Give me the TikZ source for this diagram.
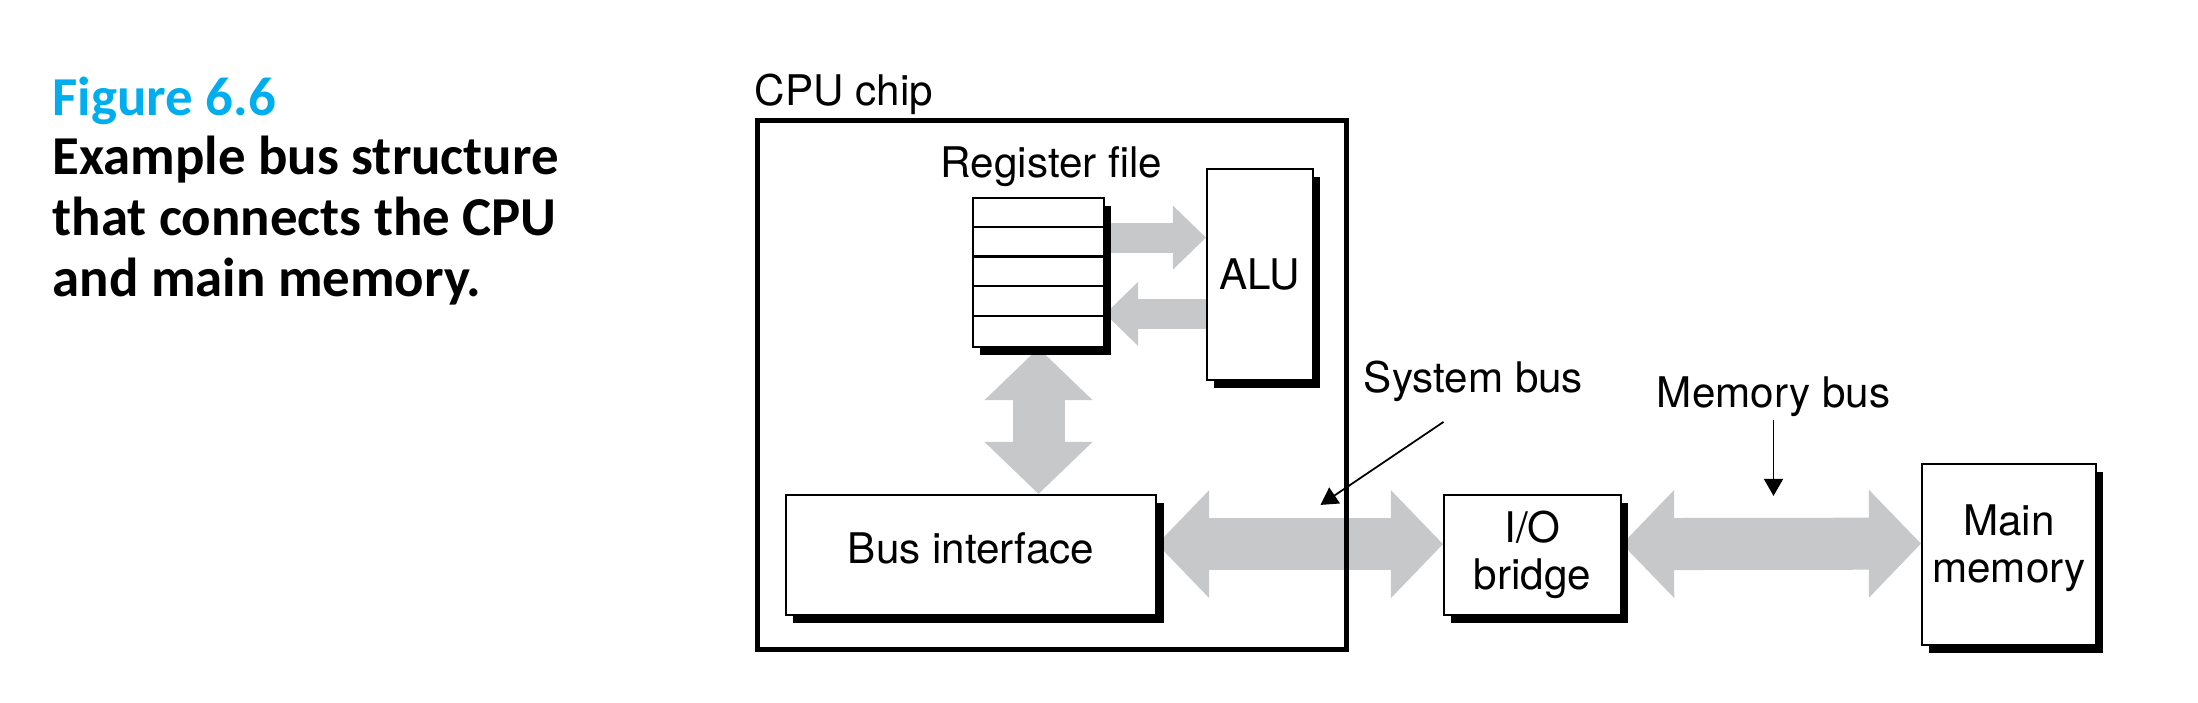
\documentclass[tikz,border=0pt]{standalone}
\usepackage{fontspec}
\setmainfont{TeX Gyre Heros}
\newfontfamily\capfont{Carlito}
\usetikzlibrary{arrows.meta,shadows,calc,backgrounds,positioning}

\definecolor{figcyan}{RGB}{0,174,239}
\definecolor{busgray}{RGB}{199,200,202}

\tikzset{
  unit/.style={draw, fill=white, line width=0.6pt, inner sep=0pt, align=center,
    font=\fontsize{12}{13.4}\selectfont,
    drop shadow={shadow xshift=2.1pt, shadow yshift=-2.2pt, fill=black, opacity=1}},
  busname/.style={inner sep=0pt, font=\fontsize{12}{13.4}\selectfont},
  capline/.style={anchor=base west, inner sep=0pt, font=\capfont\bfseries\fontsize{15.6}{18}\selectfont},
  bigbus/.style={draw=busgray, line width=0.52cm,
    {Triangle[width=1.08cm,length=0.52cm,line width=0pt]}-{Triangle[width=1.08cm,length=0.52cm,line width=0pt]}},
  smallbus/.style={draw=busgray, line width=0.30cm, -{Triangle[width=0.64cm,length=0.33cm,line width=0pt]}},
  pointer/.style={line width=0.5pt, -{Triangle[length=0.17cm,width=0.19cm]}}
}

\begin{document}
\begin{tikzpicture}[x=0.01cm, y=-0.01cm]
  \useasboundingbox (0,0) rectangle (2198,702);

  % Legende
  \node[capline, text=figcyan] (fignum) at (52,115) {Figure 6.6};
  \node[capline] (cap1) at (52,174) {Example bus structure};
  \node[capline] (cap2) at (52,235) {that connects the CPU};
  \node[capline] (cap3) at (52,296) {and main memory.};

  % Puce CPU
  \node[draw, line width=1.4pt, minimum width=5.88cm, minimum height=5.28cm] (cpu) at (1052,385) {};
  \node[busname, anchor=base west] (cpulabel) at (754,105) {CPU chip};

  % Blocs
  \node[unit, minimum width=1.31cm, minimum height=1.49cm] (regs) at (1038.5,272.5) {};
  \foreach \k in {1,...,4}
    \draw[line width=0.6pt] ($(regs.north west)+(0,\k*29.8)$) -- ($(regs.north east)+(0,\k*29.8)$);
  \node[busname, anchor=base] (reglabel) at (1051.5,177) {Register file};
  \node[unit, minimum width=1.06cm, minimum height=2.11cm] (alu) at (1260,274.5) {ALU};
  \node[unit, minimum width=3.70cm, minimum height=1.20cm, text depth=4pt] (bif) at (971,555) {Bus interface};
  \node[unit, minimum width=1.77cm, minimum height=1.20cm] (bridge) at (1532.5,555) {I/O\\bridge};
  \node[unit, minimum width=1.74cm, minimum height=1.81cm, text depth=6pt] (mem) at (2009,554.5) {Main\\memory};

  % Bus
  \coordinate (toalu) at ([yshift=10.5pt]alu.west);
  \coordinate (fromalu) at ([yshift=-11.2pt]alu.west);
  \begin{scope}[on background layer]
    \draw[smallbus] (regs.east |- toalu) -- (toalu);
    \draw[smallbus] (fromalu) -- (regs.east |- fromalu);
    \draw[bigbus] (regs.south) -- (regs.south |- bif.north);
    \draw[bigbus] ([yshift=3.1pt]bif.east) -- ([yshift=3.1pt]bridge.west);
    \draw[bigbus] ([yshift=3.1pt]bridge.east) -- ([yshift=3.1pt]mem.west);
  \end{scope}

  % Etiquettes des bus
  \node[busname, anchor=base] (sysbus) at (1473.5,392) {System bus};
  \node[busname, anchor=base] (membus) at (1773.5,407) {Memory bus};
  \draw[pointer] ($(sysbus.south)+(-30,20)$) -- ++(-123,83);
  \draw[pointer] ($(membus.south)+(0,3)$) -- ++(0,76);
\end{tikzpicture}
\end{document}
